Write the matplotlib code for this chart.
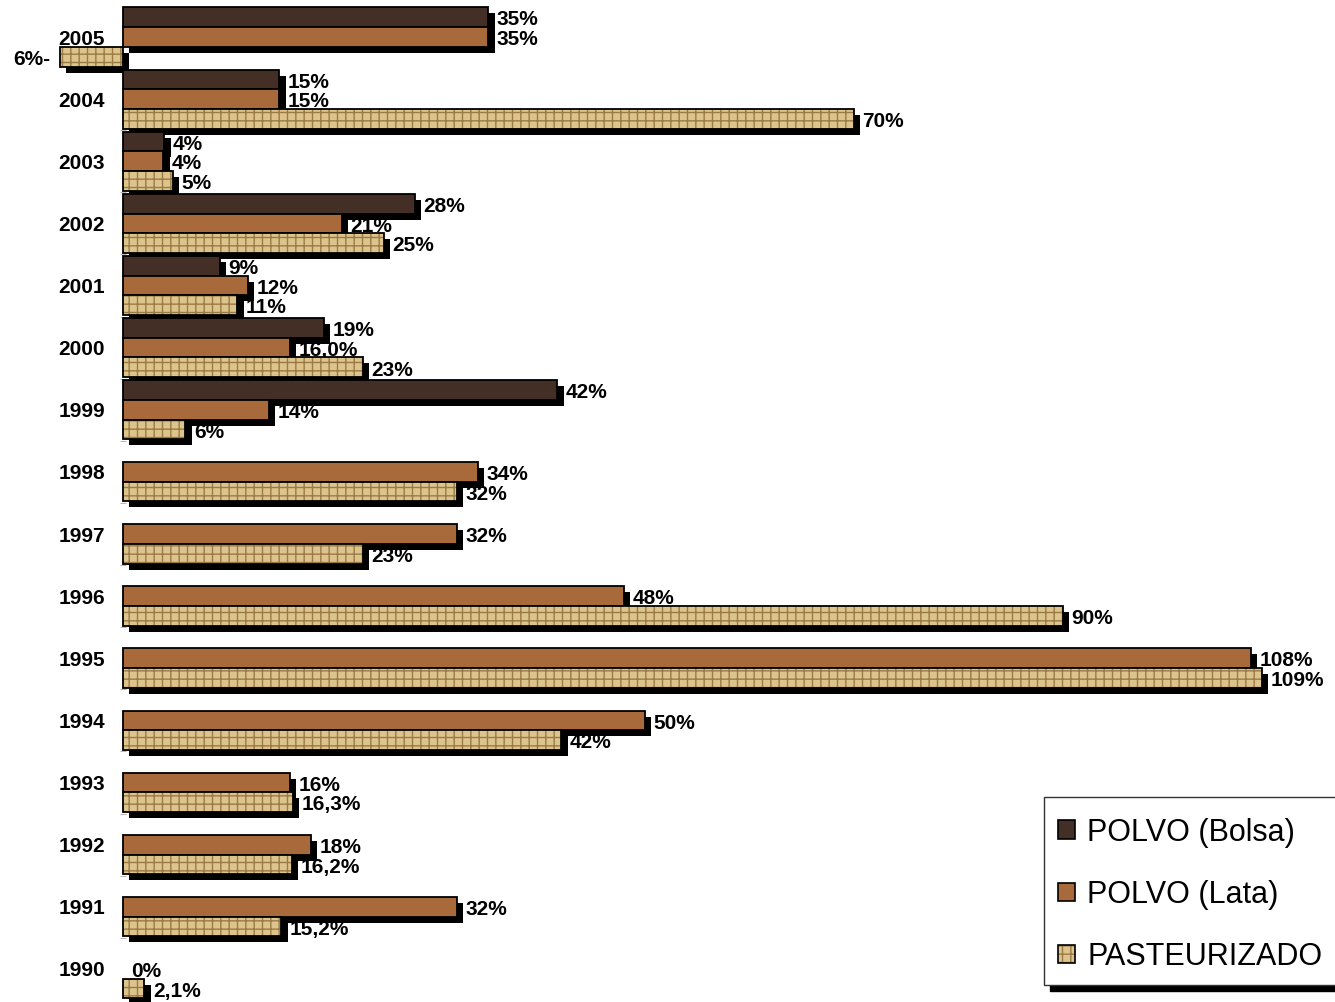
import numpy as np
import matplotlib
matplotlib.use("Agg")
import matplotlib.pyplot as plt
from matplotlib.patches import Patch
from matplotlib.transforms import ScaledTranslation

plt.rcParams['font.family'] = ['Liberation Sans', 'DejaVu Sans']
plt.rcParams['hatch.color'] = '#9a7a45'
plt.rcParams['hatch.linewidth'] = 1.0

years = ['2005', '2004', '2003', '2002', '2001', '2000', '1999', '1998',
         '1997', '1996', '1995', '1994', '1993', '1992', '1991', '1990']
nan = np.nan
bolsa = [35, 15, 4, 28, 9.3, 19.3, 41.6, nan, nan, nan, nan, nan, nan, nan, nan, nan]
lata = [35, 15, 3.9, 21, 12, 16, 14, 34, 32, 48, 108, 50, 16, 18, 32, 0]
past = [-6, 70, 4.8, 25, 11, 23, 6, 32, 23, 90, 109, 42, 16.3, 16.2, 15.2, 2.1]

bolsa_lbl = ['35%', '15%', '4%', '28%', '9%', '19%', '42%', '', '', '', '', '', '', '', '', '']
lata_lbl = ['35%', '15%', '4%', '21%', '12%', '16,0%', '14%', '34%', '32%', '48%',
            '108%', '50%', '16%', '18%', '32%', '0%']
past_lbl = ['6%-', '70%', '5%', '25%', '11%', '23%', '6%', '32%', '23%', '90%',
            '109%', '42%', '16,3%', '16,2%', '15,2%', '2,1%']

names = ['POLVO (Bolsa)', 'POLVO (Lata)', 'PASTEURIZADO']
colors = ['#432f25', '#a8693b', '#dcc48c']

fig = plt.figure(figsize=(13.35, 10.02), dpi=100)
ax = fig.add_axes([0, 0, 1, 1])

# pixel layout: zero at x=122.5, 10.45 px per %, 62.13 px per year group
ax.set_xlim(-122.5 / 10.45, (1335 - 122.5) / 10.45)
ax.set_ylim((1002 - 37) / 62.13, -37 / 62.13)

pos = np.arange(len(years))
h = 0.317
shadow = ax.transData + ScaledTranslation(0.063, -0.06, fig.dpi_scale_trans)

series = [(bolsa, bolsa_lbl, -h), (lata, lata_lbl, 0.0), (past, past_lbl, h)]
for k, (vals, lbls, off) in enumerate(series):
    vals = np.array(vals, dtype=float)
    ok = ~np.isnan(vals) & (vals != 0)
    y = pos[ok] + off
    w = vals[ok]
    ax.barh(y, w, h, color='black', linewidth=0, transform=shadow, zorder=2)
    if k == 2:
        ax.barh(y, w, h, color=colors[k], hatch='++', linewidth=0, zorder=3)
        ax.barh(y, w, h, fill=False, edgecolor='black', linewidth=1.3, zorder=3.5)
    else:
        ax.barh(y, w, h, color=colors[k], edgecolor='black', linewidth=1.3, zorder=3)
    for i, (v, t) in enumerate(zip(vals, lbls)):
        if np.isnan(v) or not t:
            continue
        neg = v < 0
        ax.annotate(t, (v, pos[i] + off), xytext=(-6.5 if neg else 6.2, -0.5),
                    textcoords='offset points', ha='right' if neg else 'left',
                    va='center_baseline', fontsize=15, fontweight='bold', zorder=1)

ax.spines['left'].set_position(('data', 0))
for s in ax.spines.values():
    s.set_visible(False)
ax.set_xticks([])
ax.set_yticks(pos, years, fontsize=15, fontweight='bold')
ax.tick_params(axis='y', length=0, pad=12.6)
ax.set_yticks(pos[:-1] + 0.5, minor=True)
ax.tick_params(axis='y', which='minor', length=4, color='#aaaaaa', direction='inout')

handles = [Patch(facecolor=colors[0], edgecolor='black', linewidth=1.2),
           Patch(facecolor=colors[1], edgecolor='black', linewidth=1.2),
           (Patch(facecolor=colors[2], hatch='++', linewidth=0),
            Patch(fill=False, edgecolor='black', linewidth=1.2))]
leg = ax.legend(handles, names, loc='upper left', bbox_to_anchor=(1058 / 1335, 1 - 817.5 / 1002),
                borderaxespad=0, fontsize=22, handlelength=0.55, handleheight=0.55,
                handletextpad=0.4, labelspacing=1.05, borderpad=0, frameon=False)
leg.set_zorder(7)

# legend box with a drop shadow, in pixels (y up from the bottom)
box_x0, box_top, box_bottom = 1044, 797, 985
ax.add_artist(plt.Rectangle((box_x0 + 6, 1002 - box_bottom - 6), 400, box_bottom - box_top,
                            transform=None, color='black', zorder=5))
ax.add_artist(plt.Rectangle((box_x0, 1002 - box_bottom), 400, box_bottom - box_top,
                            transform=None, facecolor='white', edgecolor='#333333',
                            linewidth=1.0, zorder=6))

fig.savefig('out.png', dpi=100)
